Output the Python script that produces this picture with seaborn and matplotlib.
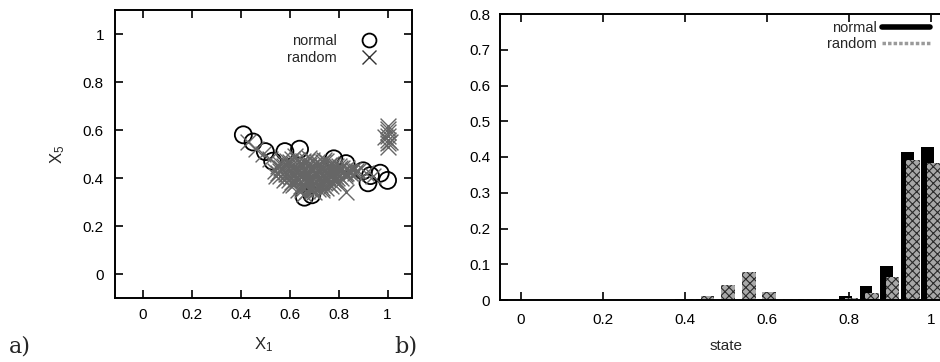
import numpy as np
import pandas as pd
import matplotlib
matplotlib.use("Agg")
import matplotlib.pyplot as plt
from matplotlib.lines import Line2D
import seaborn as sns

# ---------------- data ----------------
# panel a) normal points (circles)
normal_x1 = [0.41, 0.45, 0.50, 0.53, 0.58, 0.64, 0.66, 0.69, 0.78, 0.83, 0.90, 0.93, 0.92, 0.97, 1.00]
normal_x5 = [0.58, 0.55, 0.51, 0.47, 0.51, 0.52, 0.32, 0.33, 0.48, 0.46, 0.43, 0.41, 0.38, 0.42, 0.39]
# panel a) random points (crosses)
random_x1 = [0.57, 0.61, 0.655, 0.69, 0.735, 0.77,
             0.56, 0.60, 0.64, 0.68, 0.72, 0.76, 0.80,
             0.55, 0.595, 0.63, 0.675, 0.71, 0.755, 0.79, 0.835,
             0.565, 0.605, 0.645, 0.685, 0.725, 0.765, 0.805, 0.845,
             0.54, 0.58, 0.625, 0.66, 0.705, 0.74, 0.785, 0.82, 0.86,
             0.55, 0.59, 0.63, 0.67, 0.71, 0.75, 0.79, 0.83, 0.87,
             0.56, 0.605, 0.64, 0.685, 0.72, 0.765, 0.80, 0.845,
             0.585, 0.625, 0.665, 0.705, 0.745, 0.785, 0.825,
             0.575, 0.61, 0.655, 0.69, 0.73, 0.775, 0.81,
             0.62, 0.66, 0.70, 0.74, 0.78,
             0.60, 0.645, 0.68, 0.725, 0.76, 0.80,
             0.65, 0.69, 0.73, 0.77,
             0.635, 0.67, 0.715, 0.75,
             0.66, 0.70,
             0.59, 0.63, 0.67, 0.71, 0.75,
             0.575, 0.615, 0.655, 0.695, 0.735, 0.775, 0.815,
             0.56, 0.60, 0.645, 0.685, 0.725, 0.765, 0.80, 0.84,
             0.545, 0.585, 0.625, 0.665, 0.705, 0.745, 0.785, 0.825, 0.865,
             0.595, 0.635, 0.675, 0.715, 0.755, 0.795,
             0.615, 0.655, 0.695, 0.735, 0.775,
             0.65, 0.69, 0.73,
             0.62, 0.68, 0.74,
             0.83, 0.43, 0.46, 0.49, 0.52, 0.88, 0.91, 0.94,
             1.00, 1.00, 1.00, 1.00, 1.00, 1.00, 0.99, 1.01, 1.00]
random_x5 = [0.475, 0.48, 0.47, 0.475, 0.465, 0.46,
             0.46, 0.465, 0.46, 0.455, 0.46, 0.455, 0.45,
             0.45, 0.455, 0.445, 0.45, 0.455, 0.445, 0.45, 0.44,
             0.44, 0.435, 0.44, 0.445, 0.44, 0.435, 0.44, 0.43,
             0.43, 0.425, 0.435, 0.43, 0.425, 0.435, 0.43, 0.425, 0.435,
             0.42, 0.415, 0.42, 0.425, 0.415, 0.42, 0.425, 0.42, 0.43,
             0.41, 0.405, 0.415, 0.41, 0.405, 0.415, 0.41, 0.42,
             0.40, 0.395, 0.40, 0.405, 0.40, 0.395, 0.41,
             0.39, 0.385, 0.395, 0.39, 0.385, 0.395, 0.40,
             0.38, 0.375, 0.38, 0.385, 0.39,
             0.37, 0.365, 0.375, 0.37, 0.375, 0.38,
             0.36, 0.355, 0.36, 0.365,
             0.35, 0.345, 0.355, 0.36,
             0.335, 0.34,
             0.47, 0.475, 0.47, 0.465, 0.47,
             0.45, 0.445, 0.455, 0.45, 0.445, 0.455, 0.44,
             0.43, 0.435, 0.425, 0.435, 0.43, 0.425, 0.435, 0.43,
             0.41, 0.415, 0.405, 0.41, 0.415, 0.405, 0.41, 0.415, 0.42,
             0.39, 0.395, 0.385, 0.39, 0.395, 0.40,
             0.37, 0.375, 0.365, 0.37, 0.38,
             0.35, 0.345, 0.35,
             0.49, 0.485, 0.475,
             0.34, 0.55, 0.52, 0.50, 0.48, 0.43, 0.42, 0.41,
             0.53, 0.545, 0.56, 0.575, 0.59, 0.605, 0.57, 0.55, 0.615]

# panel b) histogram over states
states = [0.00, 0.05, 0.10, 0.15, 0.20, 0.25, 0.30, 0.35, 0.40, 0.45, 0.50,
          0.55, 0.60, 0.65, 0.70, 0.75, 0.80, 0.85, 0.90, 0.95, 1.00]
normal_freq = [0, 0, 0, 0, 0, 0, 0, 0, 0.004, 0.003, 0.001,
               0.001, 0.002, 0.001, 0.002, 0.002, 0.010, 0.040, 0.095, 0.415, 0.428]
random_freq = [0, 0, 0, 0, 0, 0, 0, 0, 0.004, 0.010, 0.042,
               0.078, 0.022, 0.002, 0.003, 0.003, 0.005, 0.020, 0.065, 0.392, 0.383]

xticks_a = [0, 0.2, 0.4, 0.6, 0.8, 1]
yticks_a = [0, 0.2, 0.4, 0.6, 0.8, 1]
xticks_b = [0, 0.2, 0.4, 0.6, 0.8, 1]
yticks_b = [0, 0.1, 0.2, 0.3, 0.4, 0.5, 0.6, 0.7, 0.8]

# ---------------- style ----------------
sns.set_theme(style="white")
plt.rcParams["font.family"] = ["Liberation Sans", "DejaVu Sans"]
plt.rcParams["mathtext.fontset"] = "custom"
plt.rcParams["mathtext.rm"] = "Liberation Sans"
plt.rcParams["mathtext.it"] = "Liberation Sans"
plt.rcParams["hatch.linewidth"] = 0.8

fig = plt.figure(figsize=(9.4, 3.62), dpi=100)
W, H = 940, 362

def px_axes(l, t, r, b):
    return fig.add_axes([l / W, 1 - b / H, (r - l) / W, (b - t) / H])

ax1 = px_axes(115, 10, 412, 298)
ax2 = px_axes(500, 14, 951.5, 300)

def fmt(v):
    return "%g" % v

# ---------- panel a ----------
df_n = pd.DataFrame({"x": normal_x1, "y": normal_x5})
df_r = pd.DataFrame({"x": random_x1, "y": random_x5})
sns.scatterplot(data=df_n, x="x", y="y", ax=ax1, marker="o", s=150,
                facecolors="none", edgecolor="black", linewidth=1.3, label="normal")
sns.scatterplot(data=df_r, x="x", y="y", ax=ax1, marker="x", s=130,
                color="#666666", linewidth=1.0, label="random")
ax1.set_xlim(-0.115, 1.1)
ax1.set_ylim(-0.1, 1.1)
ax1.set_xticks(xticks_a)
ax1.set_xticklabels([fmt(v) for v in xticks_a])
ax1.set_yticks(yticks_a)
ax1.set_yticklabels([fmt(v) for v in yticks_a])
ax1.set_xlabel(r"X$_\mathregular{1}$", fontsize=12, labelpad=10)
ax1.set_ylabel(r"X$_\mathregular{5}$", fontsize=12, labelpad=11)
ax1.tick_params(axis="x", pad=7)
ax1.tick_params(axis="y", pad=8)

handles_a = [Line2D([], [], marker="o", ls="none", markersize=10, markerfacecolor="none",
                    markeredgecolor="black", markeredgewidth=1.3),
             Line2D([], [], marker="x", ls="none", markersize=10, color="#333333",
                    markeredgewidth=1.0)]
ax1.legend(handles_a, ["normal", "random"], loc="upper right", bbox_to_anchor=(0.88, 0.915),
           markerfirst=False, frameon=False, fontsize=10.5, borderpad=0, handlelength=1.0,
           handletextpad=1.7, labelspacing=0.15, borderaxespad=0)

# ---------- panel b ----------
df_b = pd.DataFrame({"state": states, "normal": normal_freq, "random": random_freq})
df_b["pos_n"] = df_b["state"] - 0.008
df_b["pos_r"] = df_b["state"] + 0.006
sns.barplot(data=df_b, x="pos_n", y="normal", native_scale=True, width=0.62,
            color="black", edgecolor="black", linewidth=0, errorbar=None, ax=ax2,
            saturation=1)
sns.barplot(data=df_b, x="pos_r", y="random", native_scale=True, width=0.66,
            color="#a8a8a8", edgecolor="#2a2a2a", linewidth=0, hatch="xxxx",
            errorbar=None, ax=ax2, saturation=1)
ax2.set_xlim(-0.05, 1.05)
ax2.set_ylim(0, 0.8)
ax2.set_xticks(xticks_b)
ax2.set_xticklabels([fmt(v) for v in xticks_b])
ax2.set_yticks(yticks_b)
ax2.set_yticklabels([fmt(v) for v in yticks_b])
ax2.set_xlabel("state", fontsize=11, labelpad=9)
ax2.set_ylabel("")
ax2.tick_params(axis="x", pad=9)
ax2.tick_params(axis="y", pad=7)

handles_b = [Line2D([], [], color="black", lw=4),
             Line2D([], [], color="#9a9a9a", lw=2.5, ls=(0, (1, 0.6)))]
ax2.legend(handles_b, ["normal", "random"], loc="upper right", bbox_to_anchor=(0.952, 0.975),
           markerfirst=False, frameon=False, fontsize=10.5, borderpad=0, handlelength=3.3,
           handletextpad=0.35, labelspacing=0.1, borderaxespad=0)

for ax in (ax1, ax2):
    for sp in ax.spines.values():
        sp.set_visible(True)
        sp.set_color("black")
        sp.set_linewidth(1.4)
    ax.tick_params(direction="in", length=6, width=1.2, top=True, right=True,
                   bottom=True, left=True, labelsize=11, colors="black")
    ax.grid(False)
    ax.set_facecolor("white")

fig.text(20 / W, 1 - 346 / H, "a)", fontsize=16, family=["DejaVu Serif"], va="center", ha="center")
fig.text(406 / W, 1 - 346 / H, "b)", fontsize=16, family=["DejaVu Serif"], va="center", ha="center")

fig.savefig("out.png", dpi=100, facecolor="white")
